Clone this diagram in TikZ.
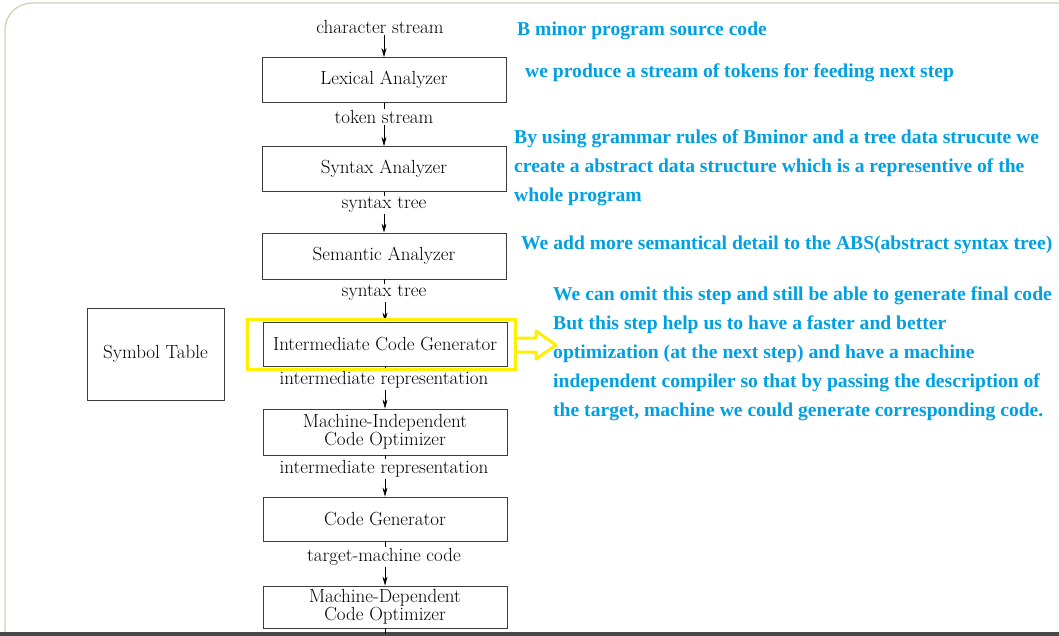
\documentclass[tikz,border=0pt]{standalone}
\usepackage{fontspec}
\newfontfamily\notefont{Liberation Serif}
\usetikzlibrary{arrows.meta}
\definecolor{noteblue}{RGB}{0,160,227}
\definecolor{hiyellow}{RGB}{255,240,0}
\definecolor{framec}{RGB}{214,206,178}
\definecolor{boxc}{RGB}{60,60,60}
\tikzset{
  stage/.style={draw=boxc, line width=0.9pt, minimum width=244pt, inner sep=0pt, align=center, font=\fontsize{19}{20}\selectfont},
  lbl/.style={inner sep=1pt, font=\fontsize{19}{20}\selectfont},
  flow/.style={draw=black, line width=0.6pt, -{Stealth[length=9pt,width=5pt]}},
  tick/.style={draw=black, line width=0.6pt},
  note/.style={anchor=west, inner sep=0pt, text=noteblue, font=\notefont\bfseries\fontsize{19.6}{29}\selectfont, align=left}
}
\begin{document}
\begin{tikzpicture}[x=1pt,y=-1pt]
\useasboundingbox (0,0) rectangle (1059,636);
\fill[white] (0,0) rectangle (1059,636);
% frame
\draw[framec, line width=1.2pt] (5,636) -- (5,30) arc[start angle=180, end angle=270, radius=27] -- (1059,3);
% bottom bar
\fill[black!72] (0,632) rectangle (1059,636);

% stages
\node[stage, minimum height=45pt] (lex) at (384,80) {Lexical Analyzer};
\node[stage, minimum height=45pt] (syn) at (384,169) {Syntax Analyzer};
\node[stage, minimum height=46pt] (sem) at (384,256) {Semantic Analyzer};
\node[stage, minimum height=44pt] (icg) at (385,344) {Intermediate Code Generator};
\node[stage, minimum height=46pt] (mi) at (385,432) {Machine-Independent\\[-2pt]Code Optimizer};
\node[stage, minimum height=44pt] (cg) at (385,519) {Code Generator};
\node[stage, minimum height=42pt] (md) at (385,607) {Machine-Dependent\\[-2pt]Code Optimizer};
\node[stage, minimum width=137pt, minimum height=92pt] (sym) at (155.5,354) {Symbol Table};

% labels
\node[lbl] (cs) at (380,27) {character stream};
\node[lbl] (ts) at (384,117) {token stream};
\node[lbl] (st1) at (384,205) {syntax tree};
\node[lbl] (st2) at (384,293) {syntax tree};
\node[lbl] (ir1) at (384,380) {intermediate representation};
\node[lbl] (ir2) at (384,469) {intermediate representation};
\node[lbl] (tm) at (384,557) {target-machine code};
\coordinate (end) at (385,634);

% connectors
\draw[flow] (cs.south -| lex.north) -- (lex.north);
\draw[tick] (lex.south) -- (lex.south |- ts.north);
\draw[flow] (ts.south -| syn.north) -- (syn.north);
\draw[tick] (syn.south) -- (syn.south |- st1.north);
\draw[flow] (st1.south -| sem.north) -- (sem.north);
\draw[tick] (sem.south) -- (sem.south |- st2.north);
\draw[flow] (st2.south -| icg.north) -- (icg.north);
\draw[tick] (icg.south) -- (icg.south |- ir1.north);
\draw[flow] (ir1.south -| mi.north) -- (mi.north);
\draw[tick] (mi.south) -- (mi.south |- ir2.north);
\draw[flow] (ir2.south -| cg.north) -- (cg.north);
\draw[tick] (cg.south) -- (cg.south |- tm.north);
\draw[flow] (tm.south -| md.north) -- (md.north);
\draw[tick] (md.south) -- (end);

% highlight
\node[draw=hiyellow, line width=3.5pt, minimum width=268pt, minimum height=50pt, inner sep=0pt] (hl) at (381.5,344.5) {};
\draw[hiyellow, line width=3pt, line join=round]
  (hl.east |- 0,338) -- (536,338) -- (536,331) -- (556,345) -- (536,359) -- (536,352) -- (hl.east |- 0,352);

% notes
\node[note] (n1) at (517,31) {B minor program source code};
\node[note] (n2) at (525,73) {we produce a stream of tokens for feeding next step};
\node[note, anchor=north west] (n3) at (514,130) {By using grammar rules of Bminor and a tree data strucute we\\create a abstract data structure which is a representive of the\\whole program};
\node[note] (n4) at (521,245) {We add more semantical detail to the ABS(abstract syntax tree)};
\node[note, anchor=north west] (n5) at (553,286) {We can omit this step and still be able to generate final code\\But this step help us to have a faster and better\\optimization (at the next step) and have a machine\\independent compiler so that by passing the description of\\the target, machine we could generate corresponding code.};
\end{tikzpicture}
\end{document}
